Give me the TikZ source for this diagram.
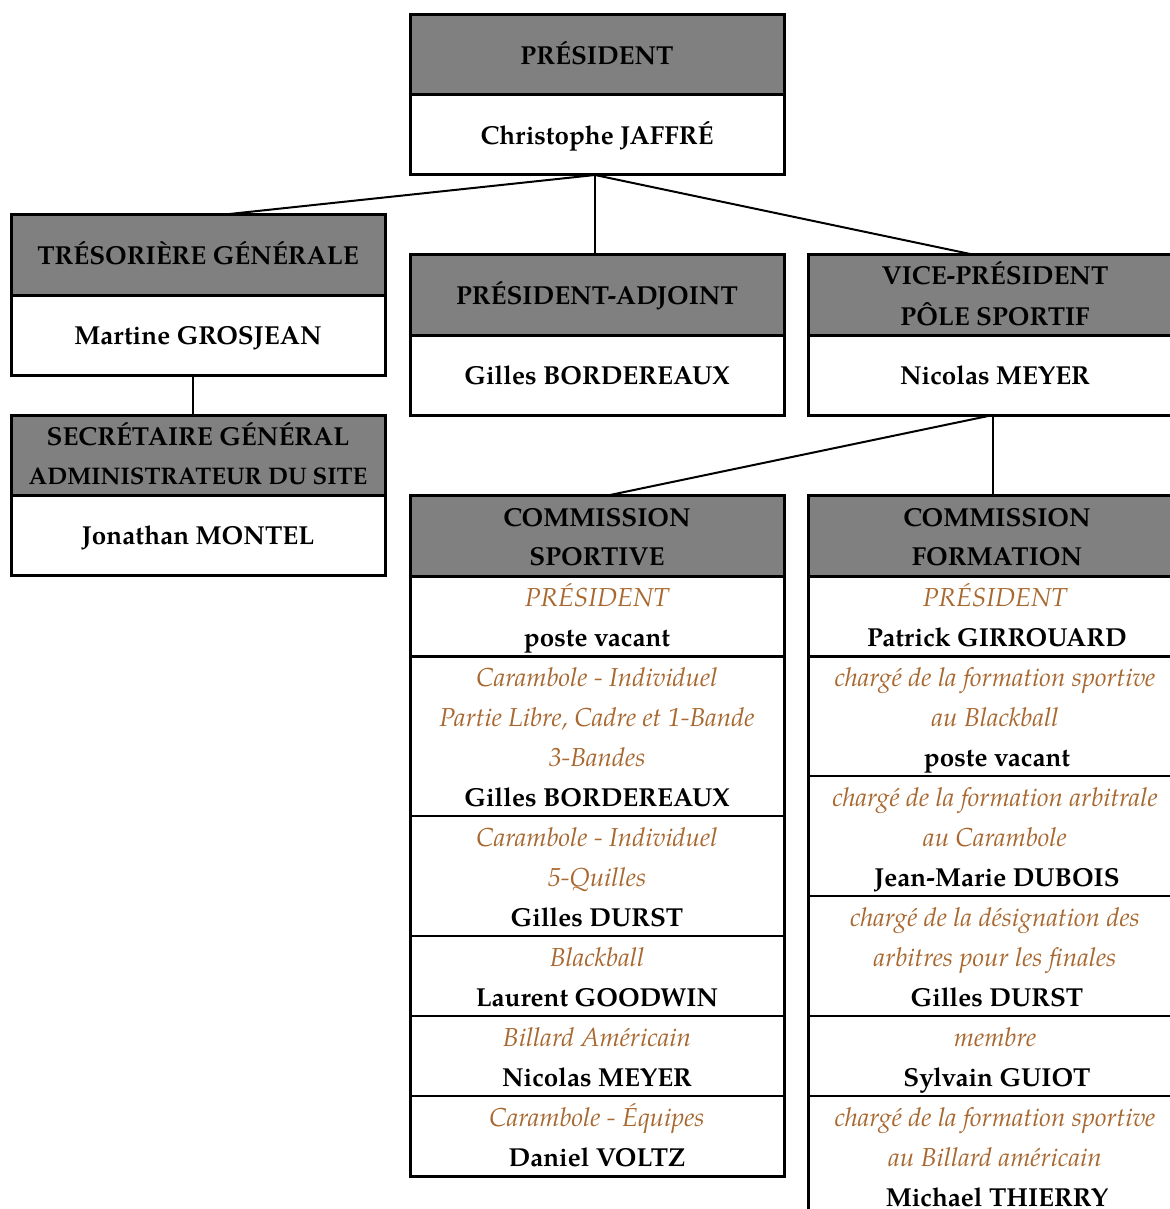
\documentclass[tikz,border=0pt]{standalone}
\usepackage{fontspec}
\setmainfont{texgyrepagella}[Extension=.otf, UprightFont=*-regular, BoldFont=*-bold, ItalicFont=*-italic, BoldItalicFont=*-bolditalic]
\usetikzlibrary{calc}
\definecolor{hdr}{RGB}{128,128,128}
\definecolor{role}{RGB}{168,104,48}
\pgfdeclarelayer{background}
\pgfsetlayers{background,main}
\newcommand\tl[5]{\node[#2] (#1) at (#3,#4) {#5};}
\tikzset{
  orgbox/.style={draw, line width=1.5pt, minimum width=187pt, inner sep=0pt},
  hd/.style={font=\fontsize{13}{16}\selectfont\bfseries, anchor=base, inner sep=0pt},
  hdsmall/.style={font=\fontsize{12}{15}\selectfont\bfseries, anchor=base, inner sep=0pt},
  nm/.style={font=\fontsize{13}{16}\selectfont\bfseries, anchor=base, inner sep=0pt},
  rl/.style={font=\fontsize{13}{16}\selectfont\itshape, text=role, anchor=base, inner sep=0pt},
  thickdiv/.style={line width=1.5pt},
  thindiv/.style={line width=1pt},
  link/.style={line width=1pt},
}
\begin{document}
\begin{tikzpicture}[x=0.5pt,y=-0.5pt]
\useasboundingbox (0,0) rectangle (1170,1209);
\clip (0,0) rectangle (1170,1209);
% boxes
\node[orgbox, minimum height=80pt] (pres) at (597,95) {};
\node[orgbox, minimum height=80pt] (tres) at (198,295) {};
\node[orgbox, minimum height=80pt] (sec) at (198,495) {};
\node[orgbox, minimum height=80pt] (padj) at (597,335) {};
\node[orgbox, minimum height=80pt] (vp) at (995,335) {};
\node[orgbox, minimum height=340.5pt] (csp) at (597,835.5) {};
\node[orgbox, minimum height=360.5pt] (cfo) at (995,855.5) {};
\begin{pgfonlayer}{background}
\fill[hdr] (pres.north west) rectangle ($(pres.north east)+(0,80)$);
\fill[hdr] (tres.north west) rectangle ($(tres.north east)+(0,80)$);
\fill[hdr] (sec.north west) rectangle ($(sec.north east)+(0,80)$);
\fill[hdr] (padj.north west) rectangle ($(padj.north east)+(0,80)$);
\fill[hdr] (vp.north west) rectangle ($(vp.north east)+(0,80)$);
\fill[hdr] (csp.north west) rectangle ($(csp.north east)+(0,81)$);
\fill[hdr] (cfo.north west) rectangle ($(cfo.north east)+(0,81)$);
\end{pgfonlayer}
% dividers
\foreach \b in {pres,tres,sec,padj,vp}{
  \draw[thickdiv] (\b.west) -- (\b.east);
}
\draw[thickdiv] (410,576) -- (784,576);
\draw[thickdiv] (410,656) -- (784,656);
\foreach \yy in {816,936,1016,1096}{\draw[thindiv] (410,\yy) -- (784,\yy);}
\draw[thickdiv] (808,576) -- (1182,576);
\draw[thickdiv] (808,656) -- (1182,656);
\foreach \yy in {776,896,1016,1096}{\draw[thindiv] (808,\yy) -- (1182,\yy);}
% connectors
\coordinate (pb) at (595,175);
\coordinate (tt) at (220,215);
\coordinate (vt) at (975,255);
\coordinate (cst) at (610,495);
\coordinate (tx) at (193,0);
\coordinate (vb) at (993,415);
\draw[link] (pb) -- (tt);
\draw[link] (pb) -- (padj.north -| pb);
\draw[link] (pb) -- (vt);
\draw[link] (tres.south -| tx) -- (sec.north -| tx);
\draw[link] (vb) -- (cst);
\draw[link] (vb) -- (cfo.north -| vb);
% texts
\tl{t1}{hd}{597}{65}{PRÉSIDENT}
\tl{t2}{nm}{597}{145}{Christophe JAFFRÉ}
\tl{t3}{hd}{198}{264}{TRÉSORIÈRE GÉNÉRALE}
\tl{t4}{nm}{198}{344}{Martine GROSJEAN}
\tl{t5}{hd}{198}{445}{SECRÉTAIRE GÉNÉRAL}
\tl{t6}{hdsmall}{198}{484}{ADMINISTRATEUR DU SITE}
\tl{t7}{nm}{198}{544}{Jonathan MONTEL}
\tl{t8}{hd}{597}{304}{PRÉSIDENT-ADJOINT}
\tl{t9}{nm}{597}{384}{Gilles BORDEREAUX}
\tl{t10}{hd}{995}{285}{VICE-PRÉSIDENT}
\tl{t11}{hd}{995}{325}{PÔLE SPORTIF}
\tl{t12}{nm}{995}{384}{Nicolas MEYER}
% commission sportive
\tl{s1}{hd}{597}{526}{COMMISSION}
\tl{s2}{hd}{597}{565}{SPORTIVE}
\tl{s3}{rl}{597}{606}{PRÉSIDENT}
\tl{s4}{nm}{597}{646}{poste vacant}
\tl{s5}{rl}{597}{686}{Carambole - Individuel}
\tl{s6}{rl}{597}{726}{Partie Libre, Cadre et 1-Bande}
\tl{s7}{rl}{597}{766}{3-Bandes}
\tl{s8}{nm}{597}{806}{Gilles BORDEREAUX}
\tl{s9}{rl}{597}{846}{Carambole - Individuel}
\tl{s10}{rl}{597}{886}{5-Quilles}
\tl{s11}{nm}{597}{926}{Gilles DURST}
\tl{s12}{rl}{597}{966}{Blackball}
\tl{s13}{nm}{597}{1006}{Laurent GOODWIN}
\tl{s14}{rl}{597}{1046}{Billard Américain}
\tl{s15}{nm}{597}{1086}{Nicolas MEYER}
\tl{s16}{rl}{597}{1126}{Carambole - Équipes}
\tl{s17}{nm}{597}{1166}{Daniel VOLTZ}
% commission formation
\tl{f1}{hd}{997}{526}{COMMISSION}
\tl{f2}{hd}{997}{565}{FORMATION}
\tl{f3}{rl}{995}{606}{PRÉSIDENT}
\tl{f4}{nm}{997}{646}{Patrick GIRROUARD}
\tl{f5}{rl}{995}{686}{chargé de la formation sportive}
\tl{f6}{rl}{995}{726}{au Blackball}
\tl{f7}{nm}{997}{766}{poste vacant}
\tl{f8}{rl}{995}{806}{chargé de la formation arbitrale}
\tl{f9}{rl}{995}{846}{au Carambole}
\tl{f10}{nm}{997}{886}{Jean-Marie DUBOIS}
\tl{f11}{rl}{995}{926}{chargé de la désignation des}
\tl{f12}{rl}{995}{966}{arbitres pour les finales}
\tl{f13}{nm}{997}{1006}{Gilles DURST}
\tl{f14}{rl}{995}{1046}{membre}
\tl{f15}{nm}{997}{1086}{Sylvain GUIOT}
\tl{f16}{rl}{995}{1126}{chargé de la formation sportive}
\tl{f17}{rl}{995}{1166}{au Billard américain}
\tl{f18}{nm}{997}{1206}{Michael THIERRY}
\end{tikzpicture}
\end{document}
